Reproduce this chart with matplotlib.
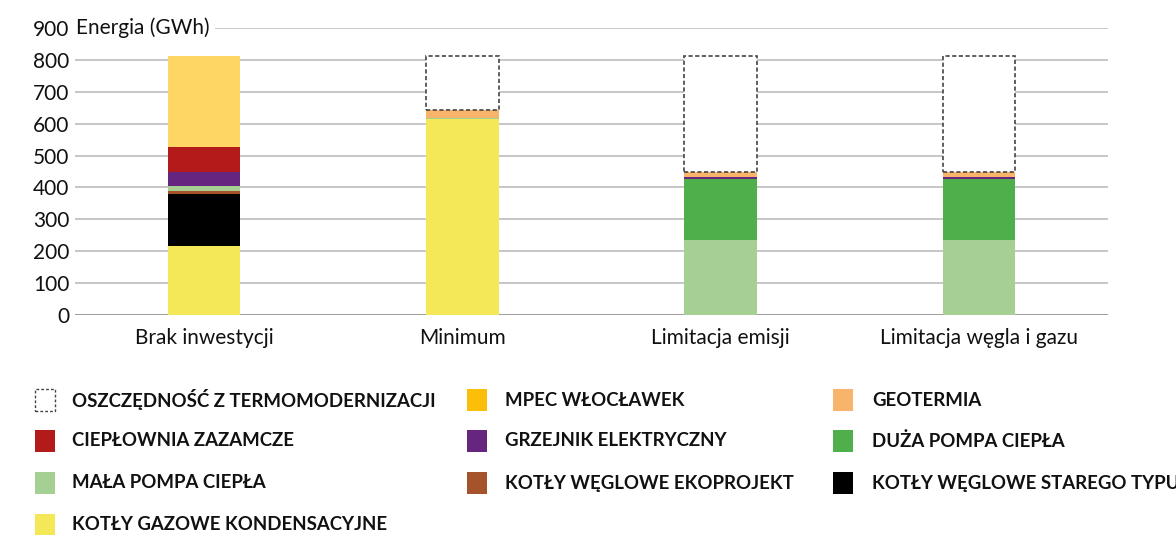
import matplotlib
matplotlib.use("Agg")
import matplotlib.pyplot as plt
from matplotlib.patches import Rectangle
import numpy as np

plt.rcParams['font.family'] = ['Lato', 'DejaVu Sans']

categories = ['Brak inwestycji', 'Minimum', 'Limitacja emisji', 'Limitacja węgla i gazu']

# stacked bottom -> top
gaz_kondensacyjne = [216, 614, 0, 0]
weglowe_stare = [163, 0, 0, 0]
weglowe_ekoprojekt = [10, 0, 0, 0]
mala_pompa = [16, 5, 235, 235]
duza_pompa = [0, 0, 192, 192]
grzejnik = [44, 0, 5, 5]
zazamcze = [78, 0, 0, 0]
mpec = [285, 0, 0, 0]
geotermia = [0, 24, 17, 17]
oszczednosc = [0, 169, 363, 363]

yticks = [0, 100, 200, 300, 400, 500, 600, 700, 800, 900]

series = [
    (gaz_kondensacyjne, '#F5E858'),
    (weglowe_stare, '#000000'),
    (weglowe_ekoprojekt, '#A5532A'),
    (mala_pompa, '#A6CF94'),
    (duza_pompa, '#4FAF4B'),
    (grzejnik, '#66257F'),
    (zazamcze, '#B31B1B'),
    (mpec, '#FDD663'),
    (geotermia, '#F8B46A'),
]

fig = plt.figure(figsize=(11.76, 5.35), dpi=100)
W, H = 1176, 535
ax = fig.add_axes([75 / W, 1 - 315 / H, (1108 - 75) / W, (315 - 28) / H])

x = np.arange(len(categories))
width = 0.28
bottom = np.zeros(len(categories))
for vals, col in series:
    v = np.array(vals, dtype=float)
    ax.bar(x, v, width, bottom=bottom, color=col, edgecolor='none', zorder=3)
    bottom += v
v = np.array(oszczednosc, dtype=float)
ax.bar(x[v > 0], v[v > 0], width, bottom=bottom[v > 0], facecolor='white',
       edgecolor='#444444', linestyle=(0, (2.5, 1.5)), linewidth=1.2, zorder=3)

ax.set_xlim(-0.5, 3.5)
ax.set_ylim(0, 900)
ax.set_yticks(yticks)
ax.set_yticklabels([str(t) for t in yticks], fontsize=15, color='#111111')
ax.set_xticks(x)
ax.set_xticklabels(categories, fontsize=15, color='#111111')
ax.tick_params(axis='y', length=0, pad=4)
ax.tick_params(axis='x', length=0, pad=9)
for s in ax.spines.values():
    s.set_visible(False)
for t in yticks:
    ax.axhline(t, color='#8c8c8c' if t == 0 else '#bdbdbd', linewidth=1.2, zorder=1)

ax.text(0.001, 900, 'Energia (GWh)', transform=ax.get_yaxis_transform(),
        fontsize=15, color='#111111', va='center', ha='left', zorder=4,
        bbox=dict(facecolor='white', edgecolor='none', pad=4))

legend_items = [
    ('OSZCZĘDNOŚĆ Z TERMOMODERNIZACJI', None),
    ('MPEC WŁOCŁAWEK', '#FBBF0A'),
    ('GEOTERMIA', '#F8B46A'),
    ('CIEPŁOWNIA ZAZAMCZE', '#B31B1B'),
    ('GRZEJNIK ELEKTRYCZNY', '#66257F'),
    ('DUŻA POMPA CIEPŁA', '#4FAF4B'),
    ('MAŁA POMPA CIEPŁA', '#A6CF94'),
    ('KOTŁY WĘGLOWE EKOPROJEKT', '#A5532A'),
    ('KOTŁY WĘGLOWE STAREGO TYPU', '#000000'),
    ('KOTŁY GAZOWE KONDENSACYJNE', '#F5E858'),
]
col_patch_x = [35, 467, 833]
col_text_x = [72, 505, 872]
row_y = [400, 441, 483, 525]
pw, ph = 20, 22
for i, (label, col) in enumerate(legend_items):
    r, c = divmod(i, 3)
    px, py = col_patch_x[c], row_y[r]
    if col is None:
        rect = Rectangle((px / W, 1 - (py + ph / 2) / H), pw / W, ph / H,
                         transform=fig.transFigure, facecolor='white',
                         edgecolor='#444444', linestyle=(0, (2, 1.5)), linewidth=1.0)
    else:
        rect = Rectangle((px / W, 1 - (py + ph / 2) / H), pw / W, ph / H,
                         transform=fig.transFigure, facecolor=col, edgecolor='none')
    fig.add_artist(rect)
    fig.text(col_text_x[c] / W, 1 - py / H, label, fontsize=13.4, fontweight='bold',
             color='#111111', va='center', ha='left')

fig.savefig('out.png', dpi=100, facecolor='white')
